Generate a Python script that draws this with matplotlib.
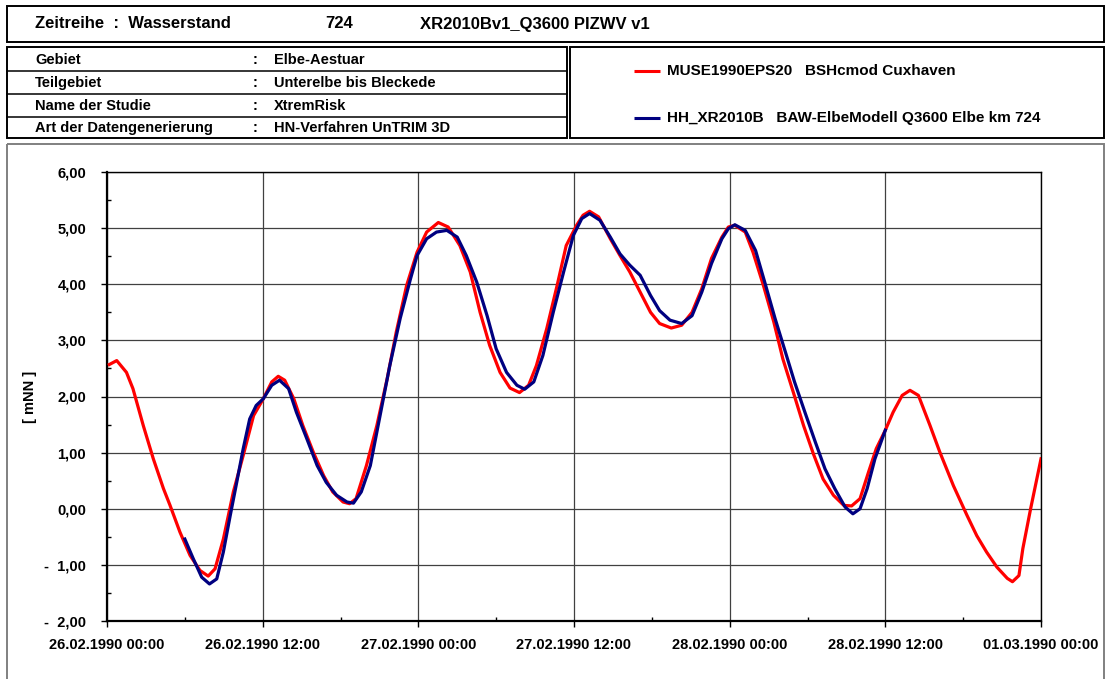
import matplotlib
matplotlib.use("Agg")
import matplotlib.pyplot as plt
import matplotlib.dates as mdates
from matplotlib.patches import Rectangle
from matplotlib.ticker import FuncFormatter, MultipleLocator
import numpy as np
import pandas as pd

plt.rcParams['font.family'] = ['Liberation Sans', 'DejaVu Sans']
plt.rcParams['font.weight'] = 'bold'

# Wasserstand, hours after 26.02.1990 00:00
t_red = [0.18, 0.75, 1.5, 2.0, 2.8, 3.57, 4.35, 4.86, 5.63, 6.4, 7.17, 7.8, 8.33, 8.97,
         9.74, 10.5, 11.3, 12.05, 12.7, 13.2, 13.7, 14.4, 15.1, 15.9, 16.7, 17.4, 18.2,
         18.7, 19.2, 20.0, 20.8, 21.6, 22.3, 23.1, 23.9, 24.64, 25.54, 26.3, 27.2, 28.0,
         28.76, 29.5, 30.3, 31.07, 31.8, 32.5, 33.1, 33.9, 34.7, 35.4, 36.2, 36.7, 37.2,
         37.9, 38.8, 39.55, 40.3, 41.1, 41.9, 42.6, 43.5, 44.3, 45.1, 45.85, 46.6, 47.4,
         47.9, 48.4, 49.2, 49.8, 50.6, 51.4, 52.1, 52.9, 53.7, 54.45, 55.2, 56.0, 56.8,
         57.4, 58.05, 58.7, 59.3, 60.0, 60.6, 61.3, 61.9, 62.55, 63.45, 64.2, 65.25, 66.3,
         67.05, 67.8, 68.6, 69.4, 69.8, 70.3, 70.6, 71.2, 72.0]
h_red = [2.57, 2.64, 2.43, 2.14, 1.48, 0.89, 0.36, 0.06, -0.42, -0.83, -1.10, -1.20, -1.07,
         -0.54, 0.30, 0.95, 1.66, 1.96, 2.26, 2.36, 2.29, 1.96, 1.48, 1.01, 0.59, 0.30, 0.12,
         0.09, 0.18, 0.77, 1.48, 2.32, 3.15, 3.98, 4.57, 4.93, 5.10, 5.02, 4.69, 4.22,
         3.50, 2.91, 2.43, 2.15, 2.07, 2.20, 2.55, 3.21, 3.98, 4.69, 5.05, 5.23, 5.30,
         5.20, 4.81, 4.51, 4.22, 3.86, 3.50, 3.30, 3.22, 3.27, 3.50, 3.92, 4.46, 4.84,
         5.02, 5.05, 4.93, 4.57, 3.98, 3.33, 2.67, 2.08, 1.48, 0.98, 0.53, 0.24, 0.06,
         0.05, 0.18, 0.65, 1.07, 1.40, 1.72, 2.02, 2.11, 2.02, 1.48, 1.01, 0.41, -0.12,
         -0.48, -0.77, -1.04, -1.24, -1.30, -1.19, -0.71, 0.0, 0.89]

t_blue = [6.0, 6.65, 7.3, 7.9, 8.46, 8.97, 9.5, 10.0, 10.5, 11.0, 11.5, 12.05, 12.7, 13.3,
          14.0, 14.6, 15.4, 16.2, 16.9, 17.7, 18.5, 19.0, 19.6, 20.3, 21.0, 21.8, 22.6,
          23.4, 23.9, 24.64, 25.4, 26.2, 27.0, 27.7, 28.5, 29.3, 30.0, 30.8, 31.6, 32.2,
          32.9, 33.6, 34.4, 35.2, 35.95, 36.6, 37.2, 38.0, 38.8, 39.55, 40.3, 41.1, 41.9,
          42.6, 43.4, 44.3, 45.1, 45.85, 46.6, 47.4, 47.9, 48.4, 49.2, 50.0, 50.7, 51.5,
          52.3, 53.0, 53.8, 54.6, 55.35, 56.1, 56.9, 57.5, 58.05, 58.6, 59.2, 60.0]
h_blue = [-0.54, -0.89, -1.22, -1.34, -1.25, -0.77, -0.12, 0.47, 1.07, 1.60, 1.84, 1.96,
          2.20, 2.29, 2.14, 1.72, 1.25, 0.77, 0.47, 0.24, 0.12, 0.10, 0.30, 0.77, 1.60,
          2.55, 3.39, 4.10, 4.51, 4.81, 4.93, 4.96, 4.84, 4.51, 4.04, 3.44, 2.85, 2.43,
          2.20, 2.13, 2.26, 2.73, 3.50, 4.22, 4.87, 5.17, 5.26, 5.14, 4.84, 4.54, 4.34,
          4.16, 3.80, 3.53, 3.36, 3.30, 3.44, 3.86, 4.37, 4.81, 4.99, 5.06, 4.96, 4.60,
          4.04, 3.39, 2.79, 2.26, 1.72, 1.19, 0.71, 0.36, 0.03, -0.09, 0.0, 0.36, 0.89, 1.40]

start = pd.Timestamp("1990-02-26 00:00")
x_red = start + pd.to_timedelta(t_red, unit="h")
x_blue = start + pd.to_timedelta(t_blue, unit="h")

label_red = "MUSE1990EPS20   BSHcmod Cuxhaven"
label_blue = "HH_XR2010B   BAW-ElbeModell Q3600 Elbe km 724"
info_rows = [("Gebiet", "Elbe-Aestuar"),
             ("Teilgebiet", "Unterelbe bis Bleckede"),
             ("Name der Studie", "XtremRisk"),
             ("Art der Datengenerierung", "HN-Verfahren UnTRIM 3D")]

RED = "#ff0000"
BLUE = "#000080"
W, H = 1105, 679

fig = plt.figure(figsize=(W / 100, H / 100), dpi=100)

# header frame drawn in pixel coordinates
bg = fig.add_axes([0, 0, 1, 1])
bg.set_xlim(0, W)
bg.set_ylim(H, 0)
bg.axis("off")

def box(x0, y0, x1, y1, lw=1.4, color="black"):
    bg.add_patch(Rectangle((x0, y0), x1 - x0, y1 - y0, fill=False, lw=lw, edgecolor=color))

box(7, 6, 1104, 42)
bg.text(35, 24, "Zeitreihe  :  Wasserstand", fontsize=12, va="center")
bg.text(325, 24, "724", fontsize=12, va="center")
bg.text(420, 24, "XR2010Bv1_Q3600 PIZWV v1", fontsize=12, va="center")

rows_y = [47, 71, 94, 117, 138]
box(7, 47, 567, 138)
for y in rows_y[1:-1]:
    bg.plot([7, 567], [y, y], color="black", lw=1.1)
for (name, value), y0, y1 in zip(info_rows, rows_y[:-1], rows_y[1:]):
    yc = (y0 + y1) / 2 + 0.5
    bg.text(35, yc, name, fontsize=10.5, va="center")
    bg.text(253, yc, ":", fontsize=10.5, va="center")
    bg.text(274, yc, value, fontsize=10.5, va="center")

box(570, 47, 1104, 138)
bg.plot([634, 660], [71, 71], color=RED, lw=2.2, solid_capstyle="butt")
bg.text(667, 71, label_red, fontsize=11, va="center")
bg.plot([634, 660], [118, 118], color=BLUE, lw=2.2, solid_capstyle="butt")
bg.text(667, 118, label_blue, fontsize=11, va="center")

box(7, 144, 1104, 700, lw=1.4, color="#808080")

# time series axes
ax = fig.add_axes([107 / W, (H - 621) / H, (1041 - 107) / W, (621 - 172) / H])
ax.plot(x_red, h_red, color=RED, lw=2.3, solid_joinstyle="round", zorder=3)
ax.plot(x_blue, h_blue, color=BLUE, lw=2.3, solid_joinstyle="round", zorder=4)

ax.set_xlim(start, start + pd.Timedelta(hours=72))
ax.set_ylim(-2, 6)
ax.xaxis.set_major_locator(mdates.HourLocator(byhour=[0, 12]))
ax.xaxis.set_minor_locator(mdates.HourLocator(byhour=[6, 18]))
ax.xaxis.set_major_formatter(mdates.DateFormatter("%d.%m.%Y %H:%M"))
ax.yaxis.set_major_locator(MultipleLocator(1))
ax.yaxis.set_minor_locator(MultipleLocator(0.5))

def fmt_y(v, pos):
    s = f"{abs(v):.2f}".replace(".", ",")
    return f"-  {s}" if v < 0 else s

ax.yaxis.set_major_formatter(FuncFormatter(fmt_y))
ax.grid(True, which="major", color="#404040", lw=0.9)
ax.set_axisbelow(True)

ax.tick_params(axis="both", which="major", direction="out", length=4, width=1,
               labelsize=10.5, color="black")
ax.tick_params(axis="both", which="minor", direction="in", length=3, width=1)
ax.tick_params(axis="x", which="major", pad=8)
ax.tick_params(axis="y", which="major", pad=11)
for lab in ax.get_xticklabels() + ax.get_yticklabels():
    lab.set_fontweight("bold")

for side in ["left", "bottom"]:
    ax.spines[side].set_linewidth(1.6)
for side in ["top", "right"]:
    ax.spines[side].set_linewidth(1.0)

fig.text(30 / W, 1 - 397 / H, "[ mNN ]", rotation=90, fontsize=10.5,
         ha="center", va="center")

fig.savefig("out.png", dpi=100)
